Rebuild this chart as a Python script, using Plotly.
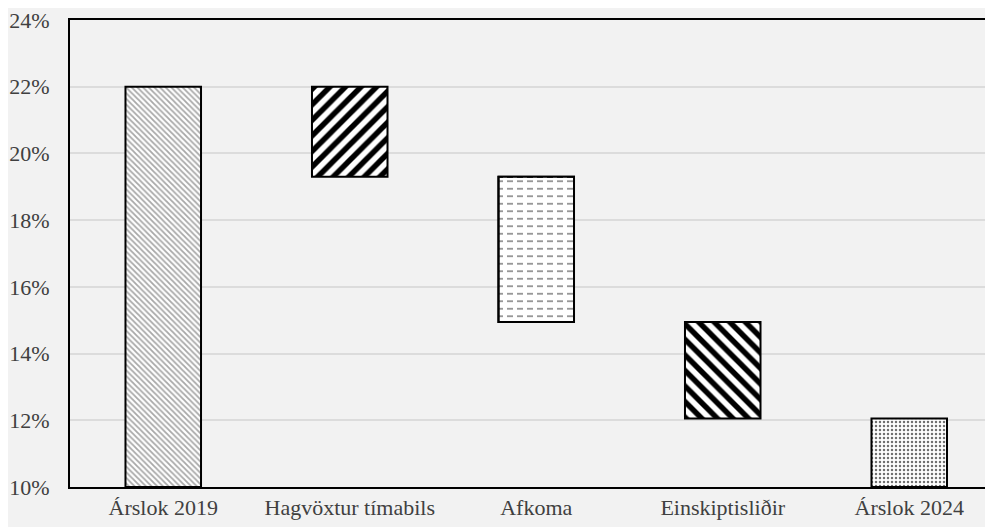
import plotly.graph_objects as go

categories = ["Árslok 2019", "Hagvöxtur tímabils", "Afkoma", "Einskiptisliðir", "Árslok 2024"]
start_level = 22.0
changes = [-2.7, -4.35, -2.9]
end_level = 12.05
axis_floor = 10.0
tick_values = [10, 12, 14, 16, 18, 20, 22, 24]

# build bases/heights
bases = [axis_floor]
heights = [start_level - axis_floor]
level = start_level
for c in changes:
    new = level + c
    bases.append(min(level, new))
    heights.append(abs(c))
    level = new
bases.append(axis_floor)
heights.append(end_level - axis_floor)

BW = 0.405
fig = go.Figure()
fig.add_trace(go.Bar(
    x=categories, y=heights, base=bases, width=BW,
    marker=dict(
        color="white",
        line=dict(color="black", width=2),
        pattern=dict(
            shape=["\\", "/", "-", "\\", "."],
            fgcolor=["#a8a8a8", "black", "#8a8a8a", "black", "#707070"],
            bgcolor="white",
            fgopacity=1,
            size=[4, 11, 7.5, 11, 4],
            solidity=[0.45, 0.5, 0.22, 0.5, 0.3],
            fillmode="overlay",
        ),
    ),
    showlegend=False,
))
# white vertical breaks to turn the Afkoma lines into dashes
fig.add_trace(go.Bar(
    x=[categories[2]], y=[heights[2]], base=[bases[2]], width=BW,
    marker=dict(
        color="rgba(0,0,0,0)",
        line=dict(color="black", width=2),
        pattern=dict(shape="|", fgcolor="white", bgcolor="rgba(0,0,0,0)",
                     fgopacity=1, size=10, solidity=0.4, fillmode="overlay"),
    ),
    showlegend=False, hoverinfo="skip",
))

fig.update_layout(
    width=993, height=527,
    margin=dict(l=62, r=0, t=9, b=48),
    paper_bgcolor="#f2f2f2", plot_bgcolor="#f2f2f2",
    font=dict(family="Liberation Serif", size=22, color="#404040"),
    barmode="overlay",
)
fig.update_xaxes(range=[-0.5, 4.492], showline=True, linecolor="black", linewidth=2,
                 mirror=True, ticks="", showgrid=False)
fig.update_yaxes(range=[10, 24], tickvals=tick_values,
                 ticktext=[f"{v}%" for v in tick_values],
                 showline=True, linecolor="black", linewidth=2,
                 gridcolor="#dcdcdc", gridwidth=1.5, zeroline=False, ticks="",
                 ticklabelstandoff=14, ticklabeloverflow="allow")
fig.write_html("out.html")
